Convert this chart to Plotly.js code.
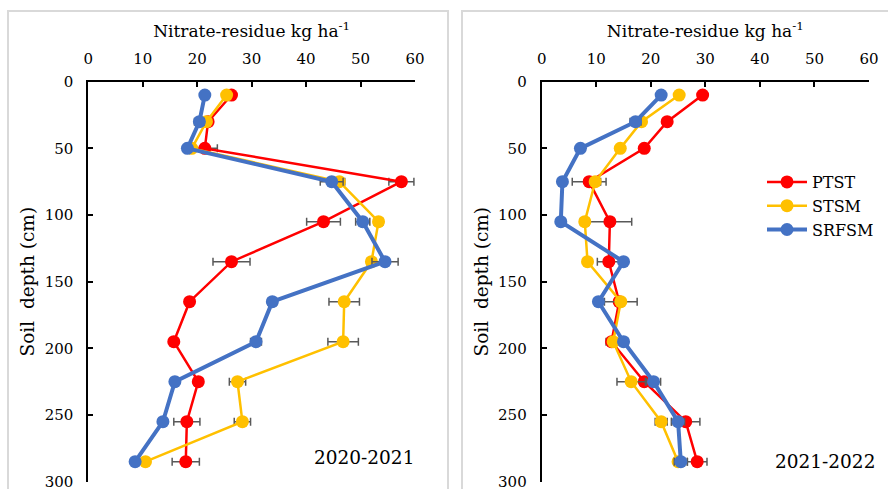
<!DOCTYPE html>
<html>
<head>
<meta charset="utf-8">
<script src="https://cdn.plot.ly/plotly-3.0.1.min.js"></script>
<style>html,body{margin:0;padding:0;background:#fff;}#chart{width:888px;height:489px;}</style>
</head>
<body>
<div id="chart"></div>
<script>
// Soil depth (cm)
const depths = [10, 30, 50, 75, 105, 135, 165, 195, 225, 255, 285];
const seriesNames = ["PTST", "STSM", "SRFSM"];
const seasonLabels = ["2020-2021", "2021-2022"];

// 2020-2021 nitrate residue (kg ha-1)
const ptst2021 = [26.3, 22.0, 21.4, 57.5, 43.2, 26.3, 18.6, 15.7, 20.2, 18.1, 17.9];
const stsm2021 = [25.4, 21.7, 19.0, 46.1, 53.3, 52.0, 47.0, 46.8, 27.4, 28.3, 10.5];
const srfsm2021 = [21.4, 20.4, 18.2, 44.7, 50.4, 54.5, 33.8, 30.8, 15.9, 13.7, 8.6];
const ptst2021Err = [0.6, 0.8, 2.3, 2.3, 3.1, 3.4, 0.6, 0.5, 0.8, 2.4, 2.5];
const stsm2021Err = [0.6, 0.6, 0.5, 1.0, 0.8, 0.8, 2.8, 2.8, 1.5, 1.5, 0.4];
const srfsm2021Err = [0.6, 0.9, 0.6, 2.1, 1.3, 2.4, 0.8, 1.0, 0.6, 0.5, 0.4];

// 2021-2022 nitrate residue (kg ha-1)
const ptst2122 = [29.5, 23.0, 18.8, 8.7, 12.5, 12.3, 14.2, 12.8, 18.8, 26.4, 28.5];
const stsm2122 = [25.2, 18.3, 14.4, 9.8, 7.9, 8.4, 14.5, 13.1, 16.4, 21.9, 25.0];
const srfsm2122 = [21.9, 17.2, 7.1, 3.8, 3.5, 15.0, 10.4, 15.0, 20.5, 25.0, 25.5];
const ptst2122Err = [0.6, 0.5, 0.5, 3.1, 4.0, 2.1, 0.8, 1.0, 0.8, 2.6, 1.8];
const stsm2122Err = [0.5, 0.6, 0.5, 1.0, 0.8, 0.6, 3.0, 0.8, 2.6, 1.1, 0.6];
const srfsm2122Err = [0.5, 1.0, 0.5, 0.5, 0.5, 0.5, 0.5, 0.8, 1.3, 1.2, 1.2];

const colors = ["#FF0000", "#FFC000", "#4472C4"];
const widths = [2.5, 2.5, 4];
const FONT = "DejaVu Serif";

function tr(x, err, i, xa, ya, showleg) {
  return {
    type: "scatter", mode: "lines+markers",
    x: x, y: depths, xaxis: xa, yaxis: ya,
    name: seriesNames[i], showlegend: showleg,
    line: {color: colors[i], width: widths[i]},
    marker: {color: colors[i], size: 13},
    error_x: {type: "data", array: err, visible: true, color: "#595959", thickness: 1.5, width: 4}
  };
}

const data = [
  tr(ptst2021, ptst2021Err, 0, "x", "y", false),
  tr(stsm2021, stsm2021Err, 1, "x", "y", false),
  tr(srfsm2021, srfsm2021Err, 2, "x", "y", false),
  tr(ptst2122, ptst2122Err, 0, "x2", "y2", true),
  tr(stsm2122, stsm2122Err, 1, "x2", "y2", true),
  tr(srfsm2122, srfsm2122Err, 2, "x2", "y2", true)
];

const W = 888, H = 489;
const px = v => v / W, py = v => 1 - v / H;

function xax(domain, anchor) {
  return {
    domain: domain, anchor: anchor, side: "top", range: [0, 60], dtick: 10, tick0: 0,
    showgrid: false, zeroline: false, showline: true, linecolor: "#000", linewidth: 2,
    ticks: "inside", ticklen: 5, tickwidth: 2, tickcolor: "#000",
    ticklabelstandoff: 10,
    tickfont: {family: FONT, size: 15, color: "#000"},
    title: {text: "Nitrate-residue kg ha<sup>-1</sup>", font: {family: FONT, size: 17, color: "#000"}, standoff: 8},
    fixedrange: true
  };
}
function yax(domain, anchor) {
  return {
    domain: domain, anchor: anchor, range: [300, 0], dtick: 50, tick0: 0,
    showgrid: false, zeroline: false, showline: true, linecolor: "#000", linewidth: 2,
    ticks: "inside", ticklen: 5, tickwidth: 2, tickcolor: "#000",
    ticklabeloverflow: "allow", ticklabelstandoff: 10,
    tickfont: {family: FONT, size: 15, color: "#000"},
    title: {text: "Soil\u00a0 depth (cm)", font: {family: FONT, size: 18.5, color: "#000"}, standoff: 5},
    fixedrange: true
  };
}

const yDom = [py(481.7), py(81.7)];
const layout = {
  width: W, height: H,
  margin: {l: 0, r: 0, t: 0, b: 0},
  paper_bgcolor: "#fff", plot_bgcolor: "rgba(0,0,0,0)",
  font: {family: FONT, color: "#000"},
  xaxis: xax([px(88.3), px(415)], "y"),
  yaxis: yax(yDom, "x"),
  xaxis2: xax([px(541.7), px(869)], "y2"),
  yaxis2: yax(yDom, "x2"),
  showlegend: true,
  legend: {x: px(762), y: py(165), xanchor: "left", yanchor: "top", bgcolor: "rgba(255,255,255,0)",
           font: {family: FONT, size: 16, color: "#000"}, tracegroupgap: 0, itemwidth: 40},
  shapes: [
    {type: "rect", xref: "paper", yref: "paper", x0: px(8), x1: px(448), y0: py(500), y1: py(11), line: {color: "#d9d9d9", width: 2}},
    {type: "rect", xref: "paper", yref: "paper", x0: px(462), x1: px(900), y0: py(500), y1: py(11), line: {color: "#d9d9d9", width: 2}}
  ],
  annotations: [
    {text: seasonLabels[0], xref: "paper", yref: "paper", x: px(364), y: py(457), xanchor: "center", yanchor: "middle", showarrow: false, font: {family: FONT, size: 18.5, color: "#000"}},
    {text: seasonLabels[1], xref: "paper", yref: "paper", x: px(825), y: py(461), xanchor: "center", yanchor: "middle", showarrow: false, font: {family: FONT, size: 18.5, color: "#000"}}
  ]
};

Plotly.newPlot("chart", data, layout, {displayModeBar: false, staticPlot: true});
</script>
</body>
</html>
